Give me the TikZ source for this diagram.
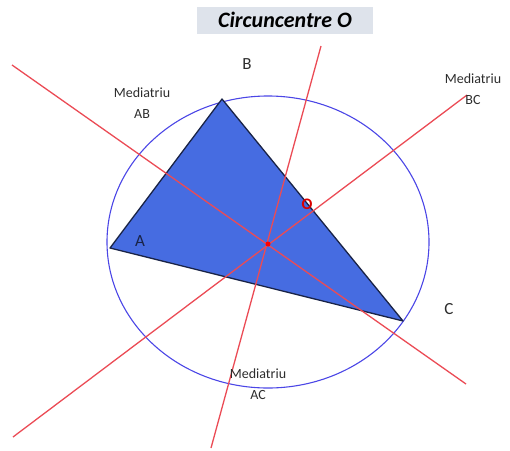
\documentclass[tikz,border=0pt]{standalone}
\usepackage{fontspec}
\setmainfont{Carlito}
\definecolor{triblue}{RGB}{70,108,225}
\definecolor{navy}{RGB}{25,35,70}
\definecolor{circblue}{RGB}{75,70,230}
\definecolor{medred}{RGB}{235,75,85}
\definecolor{titlebg}{RGB}{222,227,235}
\definecolor{labgray}{RGB}{45,45,45}
\begin{document}
\begin{tikzpicture}[x=1pt,y=-1pt,
  medline/.style={draw=medred,line width=1.3pt},
  lab/.style={font=\fontsize{14}{21}\selectfont,text=labgray,align=center,inner sep=0pt},
  vlab/.style={font=\fontsize{17}{18}\selectfont,text=labgray,inner sep=0pt}]
\useasboundingbox (0,0) rectangle (510,450);
% title
\node[fill=titlebg,minimum width=176pt,minimum height=27pt,inner sep=0pt,
  font=\fontsize{22}{24}\selectfont\bfseries\itshape,text=black] (title) at (285,20) {Circuncentre O};
% triangle vertices and centre
\coordinate (A) at (110,248);
\coordinate (B) at (222,99);
\coordinate (C) at (403,321);
\coordinate (O) at (268,244);
% circle
\draw[circblue,line width=1.1pt] (268,242) ellipse [x radius=161,y radius=146];
% triangle
\filldraw[fill=triblue,draw=navy,line width=1.3pt,line join=round] (A) -- (B) -- (C) -- cycle;
% mediatrices
\coordinate (ab1) at (12,65);
\coordinate (ab2) at (466,384);
\coordinate (bc1) at (13,437);
\coordinate (bc2) at (467,95);
\coordinate (ac1) at (321,46);
\coordinate (ac2) at (211,448);
\draw[medline] (ab1) -- (ab2);
\draw[medline] (bc1) -- (bc2);
\draw[medline] (ac1) -- (ac2);
\fill[red] (O) circle (2.5pt);
% labels
\node[font=\fontsize{16}{17}\selectfont\bfseries,text=red!85!black,inner sep=0pt] (Olab) at (307,204) {O};
\node[vlab,text=navy] (Alab) at (140,241) {A};
\node[vlab] (Blab) at (247,64) {B};
\node[vlab] (Clab) at (449,309) {C};
\node[lab] (mab) at (142,103) {Mediatriu\\AB};
\node[lab] (mbc) at (473,89) {Mediatriu\\BC};
\node[lab] (mac) at (258,384) {Mediatriu\\AC};
\end{tikzpicture}
\end{document}
